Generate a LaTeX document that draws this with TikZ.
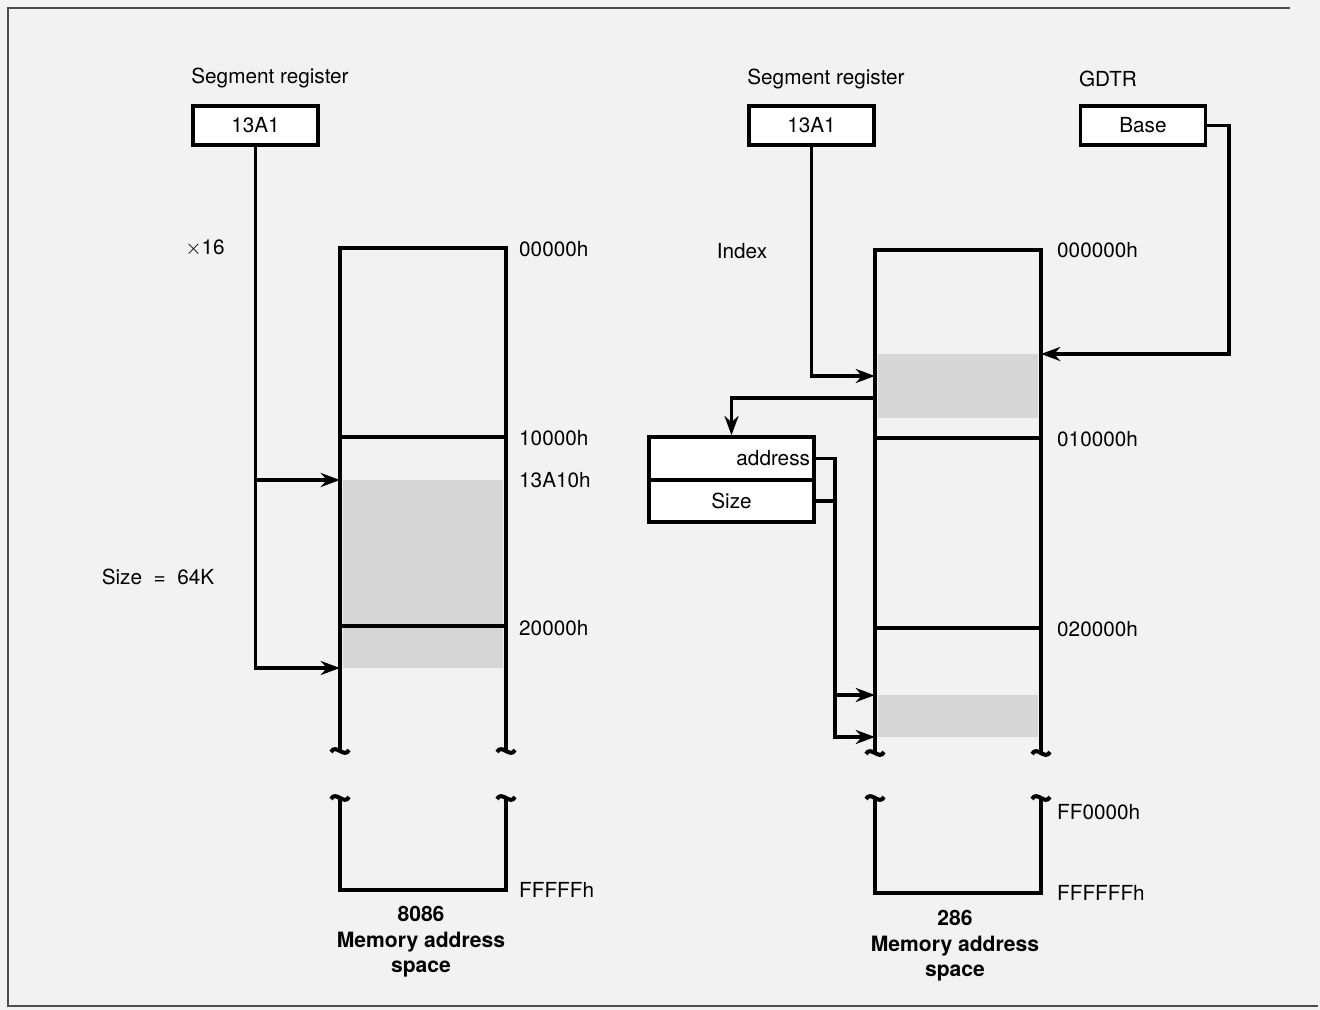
\documentclass[tikz,border=0pt]{standalone}
\usepackage{fontspec}
\setmainfont{TeX Gyre Heros}
\usetikzlibrary{arrows.meta}

\begin{document}
\begin{tikzpicture}[x=0.02cm, y=-0.02cm,
    every node/.style={font=\fontsize{11.8}{14}\selectfont},
    mem/.style={line width=2pt},
    reg/.style={draw, line width=2pt, fill=white, minimum width=2.5cm, minimum height=0.78cm, inner sep=0pt},
    field/.style={draw, line width=2pt, fill=white, minimum width=3.3cm, minimum height=0.85cm, inner sep=0pt},
    conn/.style={line width=2pt, -{Stealth[length=11pt,width=8pt]}},
    wire/.style={line width=2pt},
    used/.style={fill=black!16},
    brk/.style={line width=2.3pt},
    title/.style={font=\fontsize{12}{14.5}\selectfont\bfseries, align=center}]

    % Page and frame
    \useasboundingbox (0,0) rectangle (1320,1010);
    \fill[black!5] (0,0) rectangle (1320,1010);
    \draw[black!70, line width=0.8pt] (1290,8) -- (8,8) -- (8,1006) -- (1318,1006);

    % Left diagram: 8086
    % Memory column
    \fill[used] (343,480) rectangle (503,668);
    \draw[mem] (340,750) -- (340,248) -- (506,248) -- (506,750);
    \draw[mem] (340,437) -- (506,437);
    \draw[mem] (340,626) -- (506,626);
    \draw[mem] (340,797) -- (340,890) -- (506,890) -- (506,797);
    \foreach \x/\y in {340/750, 506/750, 340/797, 506/797}
        \draw[brk] (\x-9,\y+2) .. controls (\x-4,\y-7) and (\x+4,\y+9) .. (\x+9,\y);

    % Addresses
    \node[anchor=west] (a0) at (513,249) {00000h};
    \node[anchor=west] (a1) at (513,438) {10000h};
    \node[anchor=west] (a2) at (513,480) {13A10h};
    \node[anchor=west] (a3) at (513,628) {20000h};
    \node[anchor=west] (a4) at (513,890) {FFFFFh};
    \node[title] (cap1) at (421,942) {8086\\Memory address\\space};

    % Segment register
    \node (lbl1) at (270,78) {Segment register};
    \node[reg] (seg1) at (255.5,125.5) {13A1};
    \node (mul) at (205,248) {$\times$16};
    \node (size1) at (158,577) {Size\ \ =\ \ 64K};

    % Connectors
    \coordinate (start1) at (340,480);
    \coordinate (end1) at (340,668);
    \draw[conn] (seg1.south) |- (end1);
    \draw[conn] (seg1.south |- start1) -- (start1);

    % Right diagram: 286
    % Memory column
    \fill[used] (878,354) rectangle (1038,418);
    \fill[used] (878,695) rectangle (1038,737);
    \draw[mem] (875,752) -- (875,250) -- (1041,250) -- (1041,752);
    \draw[mem] (875,438) -- (1041,438);
    \draw[mem] (875,628) -- (1041,628);
    \draw[mem] (875,797) -- (875,893) -- (1041,893) -- (1041,797);
    \foreach \x/\y in {875/752, 1041/752, 875/797, 1041/797}
        \draw[brk] (\x-9,\y+2) .. controls (\x-4,\y-7) and (\x+4,\y+9) .. (\x+9,\y);

    % Addresses
    \node[anchor=west] (b0) at (1051,250) {000000h};
    \node[anchor=west] (b1) at (1051,439) {010000h};
    \node[anchor=west] (b2) at (1051,629) {020000h};
    \node[anchor=west] (b3) at (1051,812) {FF0000h};
    \node[anchor=west] (b4) at (1051,893) {FFFFFFh};
    \node[title] (cap2) at (955,946) {286\\Memory address\\space};

    % Registers
    \node (lbl2) at (826,79) {Segment register};
    \node[reg] (seg2) at (811.5,125.5) {13A1};
    \node (lbl3) at (1108,79) {GDTR};
    \node[reg] (base) at (1143,125.5) {Base};
    \node (idx) at (742,251) {Index};

    % Descriptor
    \node[field, minimum height=0.86cm, text width=3.14cm, inner xsep=0.08cm, align=right] (addr) at (731.5,458.5) {address};
    \node[field, minimum height=0.84cm] (size) at (731.5,501) {Size};

    % Connectors
    \coordinate (gdt) at (1041,354);
    \coordinate (entry) at (875,376);
    \coordinate (desc) at (875,398);
    \coordinate (lim1) at (875,695);
    \coordinate (lim2) at (875,737);
    \draw[conn] (base.east) -- ++(22,0) |- (gdt);
    \draw[conn] (seg2.south) |- (entry);
    \draw[conn] (desc) -| (addr.north);
    \draw[conn] (addr.east) -- ++(19,0) |- (lim2);
    \draw[wire] (size.east) -- ++(19,0);
    \draw[conn] (833,695) -- (lim1);
\end{tikzpicture}
\end{document}
